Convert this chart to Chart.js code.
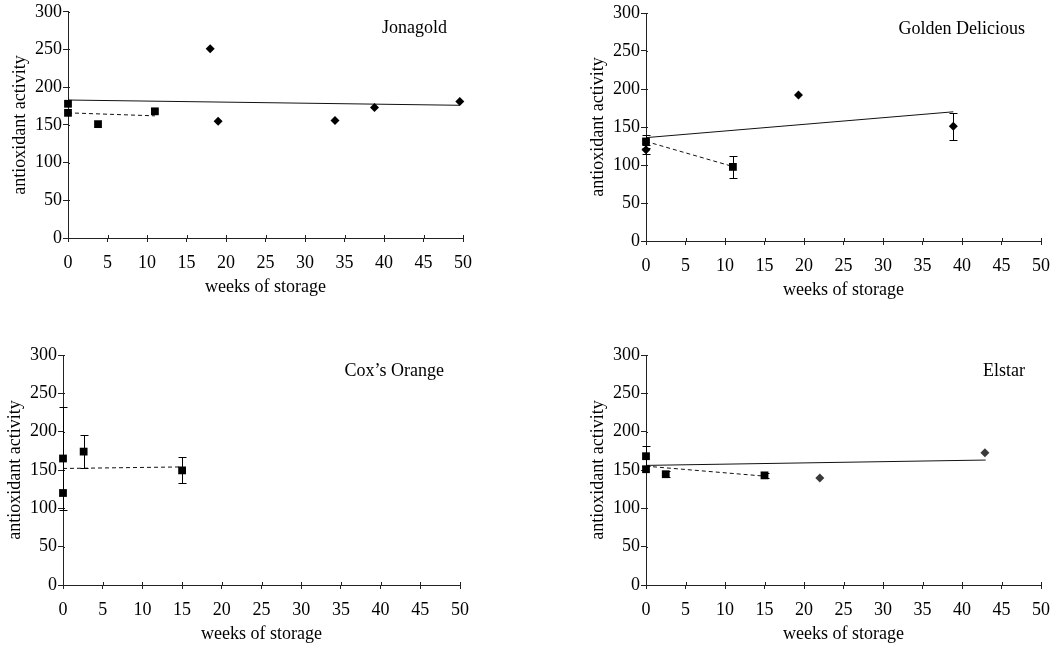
<!DOCTYPE html>
<html>
<head>
<meta charset="utf-8">
<script src="https://cdn.jsdelivr.net/npm/chart.js@4.4.1/dist/chart.umd.min.js"></script>
<style>
  body { margin: 0; background: #fff; width: 1060px; height: 648px; position: relative; overflow: hidden; }
  canvas { position: absolute; }
</style>
</head>
<body>
<canvas id="jonagold" width="530" height="324" style="left:0;top:0"></canvas>
<canvas id="golden" width="530" height="324" style="left:530px;top:0"></canvas>
<canvas id="cox" width="530" height="324" style="left:0;top:324px"></canvas>
<canvas id="elstar" width="530" height="324" style="left:530px;top:324px"></canvas>
<script>
const xLabel = 'weeks of storage';
const yLabel = 'antioxidant activity';

// Jonagold
const jonagoldSquareWeeks = [0, 0, 3.8, 11];
const jonagoldSquareValues = [178, 166, 151, 168];
const jonagoldDiamondWeeks = [18, 19, 33.8, 38.8, 49.6];
const jonagoldDiamondValues = [251, 155, 156, 173, 181];
const jonagoldSolidWeeks = [0, 49.6];
const jonagoldSolidValues = [183, 176];
const jonagoldDashedWeeks = [0, 11];
const jonagoldDashedValues = [166, 162];

// Golden Delicious
const goldenSquareWeeks = [0, 11];
const goldenSquareValues = [131, 97.5];
const goldenSquareErrors = [9, 15];
const goldenDiamondWeeks = [0, 19.3, 38.9];
const goldenDiamondValues = [120, 192, 151];
const goldenDiamondErrors = [6, 0, 17.5];
const goldenSolidWeeks = [0, 38.9];
const goldenSolidValues = [136, 170];
const goldenDashedWeeks = [0, 11];
const goldenDashedValues = [131, 98];

// Cox's Orange
const coxSquareWeeks = [0, 0, 2.6, 15];
const coxSquareValues = [165, 120, 174, 149.5];
const coxSquareErrors = [67, 0, 22, 17];
const coxDashedWeeks = [0, 15];
const coxDashedValues = [152, 154];

// Elstar
const elstarSquareWeeks = [0, 0, 2.5, 15];
const elstarSquareValues = [168, 151, 144.5, 143];
const elstarSquareErrors = [13, 0, 4, 3];
const elstarDiamondWeeks = [22, 42.9];
const elstarDiamondValues = [139.5, 172.5];
const elstarSolidWeeks = [0, 43];
const elstarSolidValues = [156, 163];
const elstarDashedWeeks = [0, 15];
const elstarDashedValues = [155, 142];

const FONT = 'Liberation Serif';
const FONT_SIZE = 18;

function toPoints(xs, ys) {
  return xs.map((x, i) => ({ x, y: ys[i] }));
}

function squares(xs, ys, errors) {
  return {
    data: toPoints(xs, ys), errors,
    pointStyle: 'rect', pointRadius: 5.5, backgroundColor: '#000', borderWidth: 0,
    showLine: false, clip: false, order: 0
  };
}

function diamonds(xs, ys, errors, color) {
  return {
    data: toPoints(xs, ys), errors,
    pointStyle: 'rectRot', pointRadius: 4.5, backgroundColor: color || '#000', borderWidth: 0,
    showLine: false, clip: false, order: 0
  };
}

function trend(xs, ys, dashed) {
  return {
    data: toPoints(xs, ys),
    showLine: true, pointRadius: 0, borderColor: '#111', borderWidth: 1,
    borderDash: dashed ? [4, 3] : [], clip: false, order: 1
  };
}

// short tick stubs on the inner side of both axes, like the original plot
const innerTicks = {
  id: 'innerTicks',
  beforeDatasetsDraw(chart) {
    const { ctx, chartArea, scales } = chart;
    ctx.save();
    ctx.strokeStyle = '#222';
    ctx.lineWidth = 1;
    ctx.beginPath();
    scales.x.ticks.forEach(t => {
      const px = Math.round(scales.x.getPixelForValue(t.value)) + 0.5;
      ctx.moveTo(px, chartArea.bottom);
      ctx.lineTo(px, chartArea.bottom - 3);
    });
    scales.y.ticks.forEach(t => {
      const py = Math.round(scales.y.getPixelForValue(t.value)) + 0.5;
      ctx.moveTo(chartArea.left, py);
      ctx.lineTo(chartArea.left + 2, py);
    });
    ctx.stroke();
    ctx.restore();
  }
};

const errorBars = {
  id: 'errorBars',
  afterDatasetsDraw(chart) {
    const ctx = chart.ctx;
    const xs = chart.scales.x, ys = chart.scales.y;
    ctx.save();
    ctx.strokeStyle = '#000';
    ctx.lineWidth = 1;
    chart.data.datasets.forEach(ds => {
      if (!ds.errors) return;
      ds.data.forEach((p, i) => {
        const e = ds.errors[i];
        if (!e) return;
        const px = Math.round(xs.getPixelForValue(p.x)) + 0.5;
        const top = Math.round(ys.getPixelForValue(p.y + e)) + 0.5;
        const bot = Math.round(ys.getPixelForValue(p.y - e)) + 0.5;
        ctx.beginPath();
        ctx.moveTo(px, top); ctx.lineTo(px, bot);
        ctx.moveTo(px - 4, top); ctx.lineTo(px + 4, top);
        ctx.moveTo(px - 4, bot); ctx.lineTo(px + 4, bot);
        ctx.stroke();
      });
    });
    ctx.restore();
  }
};

function makePanel(id, name, datasets, padding) {
  const nameLabel = {
    id: 'nameLabel',
    afterDraw(chart) {
      const { ctx, chartArea } = chart;
      ctx.save();
      ctx.font = '18px "' + FONT + '"';
      ctx.fillStyle = '#000';
      ctx.textAlign = 'right';
      ctx.textBaseline = 'middle';
      ctx.fillText(name, chartArea.right - 16, chartArea.top + 16);
      ctx.restore();
    }
  };

  return new Chart(document.getElementById(id), {
    type: 'scatter',
    data: { datasets },
    plugins: [innerTicks, errorBars, nameLabel],
    options: {
      responsive: false,
      animation: false,
      layout: { padding },
      plugins: { legend: { display: false }, tooltip: { enabled: false } },
      scales: {
        x: {
          min: 0, max: 50,
          border: { color: '#222', width: 1 },
          grid: { drawOnChartArea: false, tickLength: 4, color: '#222' },
          ticks: { stepSize: 5, color: '#000', padding: 10, maxRotation: 0, font: { family: FONT, size: FONT_SIZE } },
          title: { display: true, text: xLabel, color: '#000', padding: { top: 0, bottom: 0 }, font: { family: FONT, size: FONT_SIZE } },
          afterFit(scale) { scale.height = 60; }
        },
        y: {
          min: 0, max: 300,
          border: { color: '#222', width: 1 },
          grid: { drawOnChartArea: false, tickLength: 5, color: '#222' },
          ticks: { stepSize: 50, color: '#000', padding: 1, font: { family: FONT, size: FONT_SIZE } },
          title: { display: true, text: yLabel, color: '#000', padding: { top: 1, bottom: 0 }, font: { family: FONT, size: FONT_SIZE } },
          afterFit(scale) { scale.width = 60; }
        }
      }
    }
  });
}

makePanel('jonagold', 'Jonagold', [
  squares(jonagoldSquareWeeks, jonagoldSquareValues),
  diamonds(jonagoldDiamondWeeks, jonagoldDiamondValues),
  trend(jonagoldSolidWeeks, jonagoldSolidValues, false),
  trend(jonagoldDashedWeeks, jonagoldDashedValues, true)
], { left: 8, top: 10, right: 67, bottom: 26 });

makePanel('golden', 'Golden Delicious', [
  squares(goldenSquareWeeks, goldenSquareValues, goldenSquareErrors),
  diamonds(goldenDiamondWeeks, goldenDiamondValues, goldenDiamondErrors),
  trend(goldenSolidWeeks, goldenSolidValues, false),
  trend(goldenDashedWeeks, goldenDashedValues, true)
], { left: 56, top: 13, right: 18, bottom: 23 });

makePanel('cox', 'Cox\u2019s Orange', [
  squares(coxSquareWeeks, coxSquareValues, coxSquareErrors),
  trend(coxDashedWeeks, coxDashedValues, true)
], { left: 3, top: 31, right: 70, bottom: 3 });

makePanel('elstar', 'Elstar', [
  squares(elstarSquareWeeks, elstarSquareValues, elstarSquareErrors),
  diamonds(elstarDiamondWeeks, elstarDiamondValues, null, '#3a3a3a'),
  trend(elstarSolidWeeks, elstarSolidValues, false),
  trend(elstarDashedWeeks, elstarDashedValues, true)
], { left: 56, top: 31, right: 18, bottom: 3 });
</script>
</body>
</html>
